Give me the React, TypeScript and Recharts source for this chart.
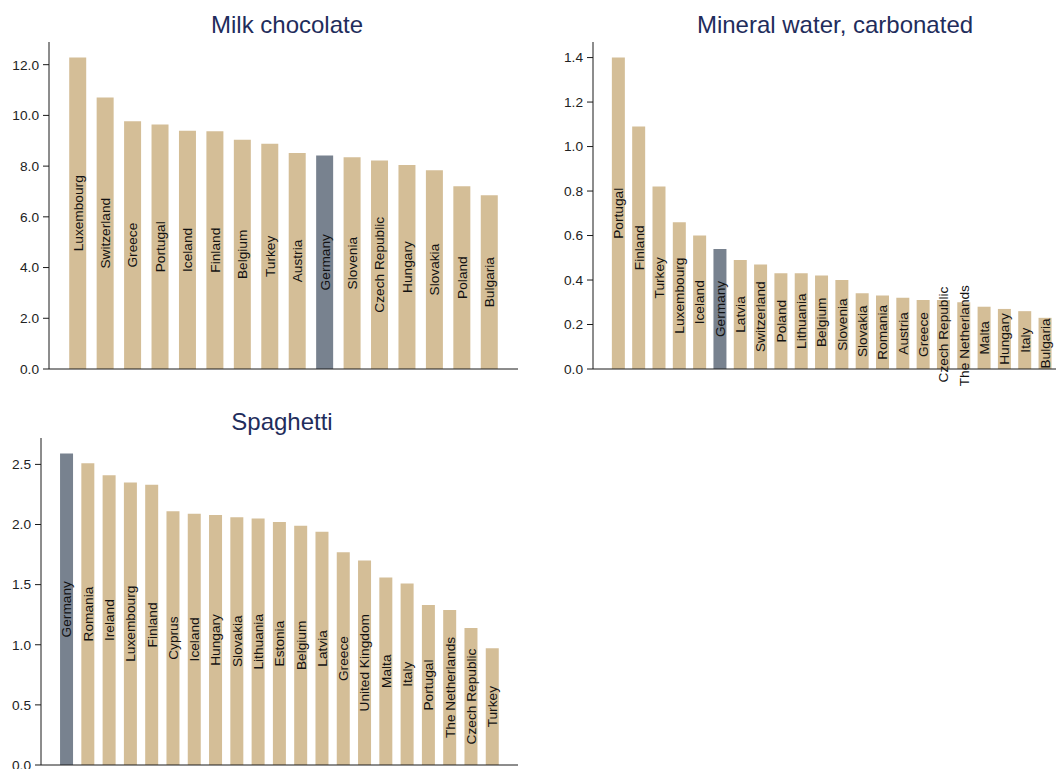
import { BarChart, Bar, XAxis, YAxis, Cell, LabelList } from "recharts";

// Milk chocolate
const milkCountries = [
  "Luxembourg", "Switzerland", "Greece", "Portugal", "Iceland", "Finland", "Belgium", "Turkey",
  "Austria", "Germany", "Slovenia", "Czech Republic", "Hungary", "Slovakia", "Poland", "Bulgaria",
];
const milkValues = [12.28, 10.71, 9.77, 9.64, 9.39, 9.37, 9.04, 8.88, 8.52, 8.42, 8.35, 8.22, 8.04, 7.84, 7.21, 6.85];
const milkTicks = [0, 2, 4, 6, 8, 10, 12];

// Mineral water, carbonated
const waterCountries = [
  "Portugal", "Finland", "Turkey", "Luxembourg", "Iceland", "Germany", "Latvia", "Switzerland",
  "Poland", "Lithuania", "Belgium", "Slovenia", "Slovakia", "Romania", "Austria", "Greece",
  "Czech Republic", "The Netherlands", "Malta", "Hungary", "Italy", "Bulgaria",
];
const waterValues = [1.4, 1.09, 0.82, 0.66, 0.6, 0.54, 0.49, 0.47, 0.43, 0.43, 0.42, 0.4, 0.34, 0.33, 0.32, 0.31, 0.31, 0.3, 0.28, 0.27, 0.26, 0.23];
const waterTicks = [0, 0.2, 0.4, 0.6, 0.8, 1.0, 1.2, 1.4];

// Spaghetti
const pastaCountries = [
  "Germany", "Romania", "Ireland", "Luxembourg", "Finland", "Cyprus", "Iceland", "Hungary",
  "Slovakia", "Lithuania", "Estonia", "Belgium", "Latvia", "Greece", "United Kingdom", "Malta",
  "Italy", "Portugal", "The Netherlands", "Czech Republic", "Turkey",
];
const pastaValues = [2.59, 2.51, 2.41, 2.35, 2.33, 2.11, 2.09, 2.08, 2.06, 2.05, 2.02, 1.99, 1.94, 1.77, 1.7, 1.56, 1.51, 1.33, 1.29, 1.14, 0.97];
const pastaTicks = [0, 0.5, 1.0, 1.5, 2.0, 2.5];

const highlight = "Germany";

const FONT = "'Liberation Sans', Arial, sans-serif";
const TAN = "#d4be97";
const GREY = "#78828f";
const AXIS = "#1a1a1a";

// country name written upwards, centred in its bar
const BarName = (props: any) => {
  const { x, y, width, height, value } = props;
  const cx = Number(x) + Number(width) / 2;
  const cy = Number(y) + Number(height) / 2;
  return (
    <text
      x={cx}
      y={cy}
      dy="0.355em"
      transform={`rotate(-90, ${cx}, ${cy})`}
      textAnchor="middle"
      fontSize={13.7}
      fontFamily={FONT}
      fill="#111"
    >
      {value}
    </text>
  );
};

interface PanelProps {
  title: string;
  countries: string[];
  values: number[];
  ticks: number[];
  left: number;
  top: number;
  width: number;
  height: number;
  yWidth: number;
  xHeight: number;
  padLeft: number;
  padRight: number;
  titleX: number;
  titleTop: number;
}

const Panel = ({ title, countries, values, ticks, left, top, width, height, yWidth, xHeight, padLeft, padRight, titleX, titleTop }: PanelProps) => {
  const data = countries.map((country, i) => ({ country, value: values[i] }));
  return (
    <div style={{ position: "absolute", left, top, width, height }}>
      <div
        style={{
          position: "absolute",
          left: titleX - 200,
          top: titleTop,
          width: 400,
          textAlign: "center",
          fontFamily: FONT,
          fontSize: 24,
          lineHeight: "24px",
          color: "#1f2d5c",
          whiteSpace: "nowrap",
        }}
      >
        {title}
      </div>
      <BarChart width={width} height={height} data={data} margin={{ top: 42, right: 0, left: 0, bottom: 0 }} barCategoryGap="19%">
        <XAxis
          dataKey="country"
          tick={false}
          tickLine={false}
          height={xHeight}
          padding={{ left: padLeft, right: padRight }}
          axisLine={{ stroke: AXIS }}
        />
        <YAxis
          width={yWidth}
          domain={[0, (dataMax: number) => dataMax * 1.05]}
          ticks={ticks}
          interval={0}
          tickFormatter={(v: number) => v.toFixed(1)}
          tickSize={6}
          tickMargin={4}
          tick={{ fontSize: 13.7, fill: "#222", fontFamily: FONT }}
          axisLine={{ stroke: AXIS }}
          tickLine={{ stroke: AXIS }}
        />
        <Bar dataKey="value" isAnimationActive={false}>
          {data.map((d) => (
            <Cell key={d.country} fill={d.country === highlight ? GREY : TAN} />
          ))}
          <LabelList dataKey="country" content={BarName} />
        </Bar>
      </BarChart>
    </div>
  );
};

export default function App() {
  return (
    <div style={{ position: "absolute", left: 0, top: 0, width: 1056, height: 769, overflow: "hidden", background: "#fff" }}>
      <Panel
        title="Milk chocolate"
        countries={milkCountries}
        values={milkValues}
        ticks={milkTicks}
        left={0}
        top={0}
        width={518}
        height={389}
        yWidth={49}
        xHeight={20}
        padLeft={15}
        padRight={15}
        titleX={287}
        titleTop={13}
      />
      <Panel
        title="Mineral water, carbonated"
        countries={waterCountries}
        values={waterValues}
        ticks={waterTicks}
        left={544}
        top={0}
        width={512}
        height={389}
        yWidth={49}
        xHeight={20}
        padLeft={15}
        padRight={1}
        titleX={291}
        titleTop={13}
      />
      <Panel
        title="Spaghetti"
        countries={pastaCountries}
        values={pastaValues}
        ticks={pastaTicks}
        left={0}
        top={396}
        width={518}
        height={373}
        yWidth={41}
        xHeight={4}
        padLeft={15}
        padRight={15}
        titleX={282}
        titleTop={14}
      />
    </div>
  );
}
